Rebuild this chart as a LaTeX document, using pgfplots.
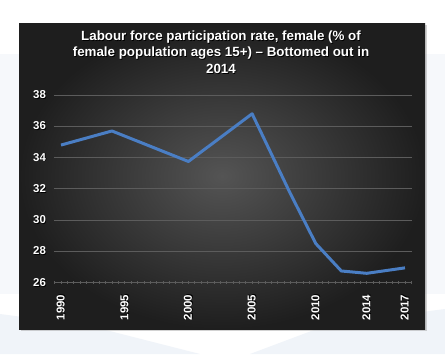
\documentclass[border=0pt]{standalone}
\usepackage{pgfplots}
\pgfplotsset{compat=1.18}
\usepackage{fontspec}
\setmainfont{Liberation Sans}
\definecolor{linec}{HTML}{4A7EC4}
\definecolor{gridc}{HTML}{5C5C5C}
\definecolor{paleblue}{HTML}{F0F4F9}
\newcommand{\sh}[1]{\leavevmode\rlap{\kern0.8bp\raisebox{-0.8bp}{\color{black}#1}}#1}
\begin{document}
\begin{tikzpicture}[x=1bp,y=1bp]
\useasboundingbox (0,0) rectangle (445,354);
\fill[white] (0,0) rectangle (445,354);
% faint background shapes
\fill[paleblue] (0,0) -- (0,40) -- (90,28) -- (200,0) -- cycle;
\fill[paleblue] (250,0) -- (330,30) -- (445,45) -- (445,0) -- cycle;
\fill[paleblue!60] (0,60) rectangle (19,300);
\fill[paleblue!60] (425,60) rectangle (445,300);
% panel shadow and panel
\fill[black!35,opacity=0.5] (20.5,23.5) rectangle (426.5,329.5);
\shade[inner color={rgb,255:red,84;green,84;blue,84}, outer color={rgb,255:red,30;green,30;blue,30}] (19,25) rectangle (425,331);
\begin{axis}[
  at={(54bp,71.3bp)}, anchor=south west,
  scale only axis, width=358bp, height=187.7bp,
  xmin=1989.45, xmax=2017.55, ymin=26, ymax=38,
  axis line style={draw=none},
  ymajorgrids, major grid style={gridc, line width=0.8bp},
  ytick={26,28,30,32,34,36,38},
  yticklabels={\sh{26},\sh{28},\sh{30},\sh{32},\sh{34},\sh{36},\sh{38}},
  ytick style={draw=none},
  xtick={1990,1995,2000,2005,2010,2014,2017},
  xticklabels={\sh{1990},\sh{1995},\sh{2000},\sh{2005},\sh{2010},\sh{2014},\sh{2017}},
  minor xtick={1989.5,1990,...,2017.5},
  xtick pos=lower, ytick pos=left,
  tick align=center,
  major tick length=3bp, minor tick length=3bp,
  xtick style={gridc, line width=0.6bp},
  minor x tick style={gridc, line width=0.6bp},
  yticklabel style={font=\bfseries\fontsize{11.5}{13}\selectfont, text=white, xshift=-3bp},
  xticklabel style={font=\bfseries\fontsize{11.5}{13}\selectfont, text=white, rotate=90, anchor=east, xshift=-7bp},
]
\addplot[linec, line width=3bp, line join=round] coordinates {
(1990,34.8) (1994,35.7) (2000,33.75) (2005,36.8) (2008,31.7) (2010,28.5) (2012,26.75) (2014,26.6) (2017,26.95)
};
\end{axis}
\node[anchor=north, align=center, inner sep=0pt, text=white,
  font=\bfseries\fontsize{13.4}{16.5}\selectfont] at (221,323.5)
  {\sh{Labour force participation rate, female (\% of}\\
   \sh{female population ages 15+) -- Bottomed out in}\\
   \sh{2014}};
\end{tikzpicture}
\end{document}
